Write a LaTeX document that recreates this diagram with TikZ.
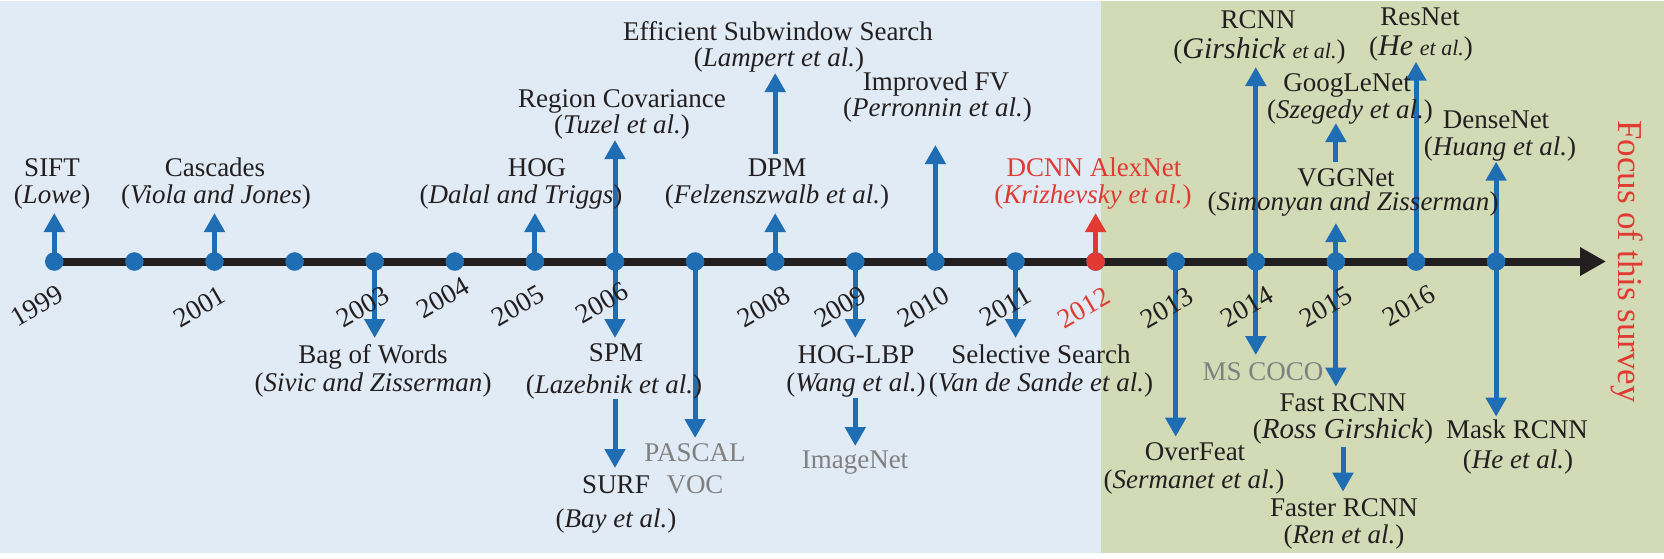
\documentclass[tikz,border=0pt]{standalone}
\usepackage{fontspec}
\setmainfont{Liberation Serif}
\usetikzlibrary{arrows.meta}
\definecolor{bgblue}{RGB}{225,235,245}
\definecolor{bggreen}{RGB}{210,219,182}
\definecolor{ablue}{RGB}{31,110,180}
\definecolor{ared}{RGB}{224,58,50}
\definecolor{ink}{RGB}{35,31,32}
\definecolor{dsgray}{RGB}{128,128,128}
\pgfdeclarelayer{bg}
\pgfdeclarelayer{lines}
\pgfsetlayers{bg,lines,main}
\newcommand{\etal}{{\fontsize{22}{25}\selectfont et al.}}

\begin{document}
\begin{tikzpicture}[x=1pt,y=-1pt,
  font=\fontsize{27}{31}\selectfont,
  lab/.style={anchor=base,inner sep=0pt,text=ink},
  dset/.style={lab,text=dsgray},
  hot/.style={lab,text=ared},
  yearlbl/.style={inner sep=0pt,rotate=30,text=ink,font=\fontsize{27.5}{31}\selectfont},
  dot/.style={circle,fill=ablue,inner sep=0pt,minimum size=18.6pt},
  arr/.style={draw=ablue,line width=5pt,-{Triangle[length=19pt,width=20pt]}},
  axisline/.style={draw=ink,line width=8pt,-{Triangle[length=26pt,width=27pt]}},
]
\useasboundingbox (0,0) rectangle (1664,558);

% two eras of the timeline
\begin{pgfonlayer}{bg}
  \fill[bgblue] (0,1) rectangle (1101,553);
  \fill[bggreen] (1101,1) rectangle (1664,553);
\end{pgfonlayer}

% year dots on the axis
\foreach \yr in {1999,...,2017} {
  \node[dot] (d\yr) at ({54.3+80.1*(\yr-1999)},261.5) {};
}
\node[dot,fill=ared] at (d2012) {};
\coordinate (axisend) at (1606,261.5);

% year labels
\foreach \yr/\dx/\dy in {1999/-17/44,2001/-15/45,2003/-12/45,2004/-12/36,
    2005/-17/44,2006/-13/41,2008/-11/45,2009/-15/45,2010/-12/45,2011/-10/45,
    2013/-9/46,2014/-9/45,2015/-10/45,2016/-7/44} {
  \node[yearlbl] (y\yr) at ([shift={(\dx,\dy)}]d\yr.center) {\yr};
}
\node[yearlbl,text=ared] (y2012) at ([shift={(-12,46)}]d2012.center) {2012};

% milestones above the axis
\node[lab] (sift) at (52,176.7) {SIFT};
\node[lab] (siftA) at (52,203) {(\textit{Lowe})};
\node[lab] (casc) at (215,176.7) {Cascades};
\node[lab] (cascA) at (216,203) {(\textit{Viola and Jones})};
\node[lab] (hog) at (537,176.7) {HOG};
\node[lab] (hogA) at (521,203) {(\textit{Dalal and Triggs})};
\node[lab] (rcov) at (622,107) {Region Covariance};
\node[lab] (rcovA) at (622,133) {(\textit{Tuzel et al.})};
\node[lab] (ess) at (778,40) {Efficient Subwindow Search};
\node[lab] (essA) at (779,66.7) {(\textit{Lampert et al.})};
\node[lab] (dpm) at (777,176.7) {DPM};
\node[lab] (dpmA) at (777,203) {(\textit{Felzenszwalb et al.})};
\node[lab] (ifv) at (936,90) {Improved FV};
\node[lab] (ifvA) at (937.5,116.7) {(\textit{Perronnin et al.})};
\node[hot] (alex) at (1094,176.7) {DCNN AlexNet};
\node[hot] (alexA) at (1093,203.3) {(\textit{Krizhevsky et al.})};
\node[lab] (rcnn) at (1258,28) {RCNN};
\node[lab] (rcnnA) at (1259.5,58) {(\textit{{\fontsize{30}{33}\selectfont Girshick} \etal})};
\node[lab] (res) at (1420,25) {ResNet};
\node[lab] (resA) at (1421,55) {(\textit{{\fontsize{30}{33}\selectfont He} \etal})};
\node[lab] (goog) at (1347,91.7) {GoogLeNet};
\node[lab] (googA) at (1350,118) {(\textit{Szegedy et al.})};
\node[lab] (vgg) at (1346,186.7) {VGGNet};
\node[lab] (vggA) at (1353,210) {(\textit{Simonyan and Zisserman})};
\node[lab] (dense) at (1496,128.3) {DenseNet};
\node[lab] (denseA) at (1500,155) {(\textit{Huang et al.})};

% milestones below the axis
\node[lab] (bow) at (373,363.3) {Bag of Words};
\node[lab] (bowA) at (373,391.7) {(\textit{Sivic and Zisserman})};
\node[lab] (spm) at (616,361.7) {SPM};
\node[lab] (spmA) at (614,393) {(\textit{Lazebnik et al.})};
\node[lab] (surf) at (616,493) {SURF};
\node[lab] (surfA) at (616,527) {(\textit{Bay et al.})};
\node[dset] (pascal) at (695,461.7) {PASCAL};
\node[dset] (voc) at (695,493) {VOC};
\node[lab] (lbp) at (856,363.3) {HOG-LBP};
\node[lab] (lbpA) at (856,391.7) {(\textit{Wang et al.})};
\node[dset] (imnet) at (855,468) {ImageNet};
\node[lab] (ss) at (1041,363) {Selective Search};
\node[lab] (ssA) at (1041,391.7) {(\textit{Van de Sande et al.})};
\node[lab] (ofeat) at (1195,460) {OverFeat};
\node[lab] (ofeatA) at (1194,488) {(\textit{Sermanet et al.})};
\node[dset] (coco) at (1263,380) {MS COCO};
\node[lab] (fast) at (1343,411.7) {Fast RCNN};
\node[lab] (fastA) at (1343,438) {({\fontsize{29}{33}\selectfont\textit{Ross Girshick}})};
\node[lab] (faster) at (1344,516.7) {Faster RCNN};
\node[lab] (fasterA) at (1344,543) {(\textit{Ren et al.})};
\node[lab] (mask) at (1517,438.3) {Mask RCNN};
\node[lab] (maskA) at (1518,468.3) {(\textit{He et al.})};

\node[text=ared,rotate=-90,inner sep=0pt,font=\fontsize{35}{40}\selectfont]
  (focus) at (1627,261.5) {Focus of this survey};

% arrow tips
\coordinate (t1999) at (d1999 |- 0,213);
\coordinate (t2001) at (d2001 |- 0,213);
\coordinate (t2003) at (d2003 |- 0,338);
\coordinate (t2005) at (d2005 |- 0,213);
\coordinate (t2006u) at (d2006 |- 0,140);
\coordinate (t2006d) at (d2006 |- 0,338);
\coordinate (t2006s) at (d2006 |- 0,468);
\coordinate (t2007) at (d2007 |- 0,438);
\coordinate (t2008) at (d2008 |- 0,213);
\coordinate (t2008e) at (d2008 |- 0,73);
\coordinate (t2009) at (d2009 |- 0,338);
\coordinate (t2009i) at (d2009 |- 0,446);
\coordinate (t2010) at (d2010 |- 0,145);
\coordinate (t2011) at (d2011 |- 0,338);
\coordinate (t2012) at (d2012 |- 0,213);
\coordinate (t2013) at (d2013 |- 0,436.7);
\coordinate (t2014u) at (d2014 |- 0,67);
\coordinate (t2014d) at (d2014 |- 0,355);
\coordinate (t2015u) at (d2015 |- 0,223);
\coordinate (t2015g) at (d2015 |- 0,123);
\coordinate (t2015d) at (d2015 |- 0,386.7);
\coordinate (t2015f) at (fastA.south |- 0,491.7);
\coordinate (t2016) at (d2016 |- 0,61.7);
\coordinate (t2017u) at (d2017 |- 0,161.7);
\coordinate (t2017d) at (d2017 |- 0,416.7);

\begin{pgfonlayer}{lines}
  \draw[axisline] (d1999.center) -- (axisend);
  \foreach \a/\b in {d1999/t1999,d2001/t2001,d2003/t2003,d2005/t2005,
      d2006/t2006u,d2006/t2006d,d2007/t2007,d2008/t2008,d2009/t2009,
      d2010/t2010,d2011/t2011,d2013/t2013,d2014/t2014u,d2014/t2014d,
      d2015/t2015u,d2015/t2015d,d2016/t2016,d2017/t2017u,d2017/t2017d} {
    \draw[arr] (\a.center) -- (\b);
  }
  \draw[arr,draw=ared] (d2012.center) -- (t2012);
  % second-step arrows from one milestone to the next
  \draw[arr] (d2006 |- spmA.south) -- (t2006s);
  \draw[arr,shorten <=4.5pt] (d2008 |- dpm.north) -- (t2008e);
  \draw[arr] (d2009 |- lbpA.south) -- (t2009i);
  \draw[arr,shorten <=6.5pt] (d2015 |- vgg.north) -- (t2015g);
  \draw[arr,shorten <=3.5pt] (fastA.south) -- (t2015f);
\end{pgfonlayer}
\end{tikzpicture}
\end{document}
